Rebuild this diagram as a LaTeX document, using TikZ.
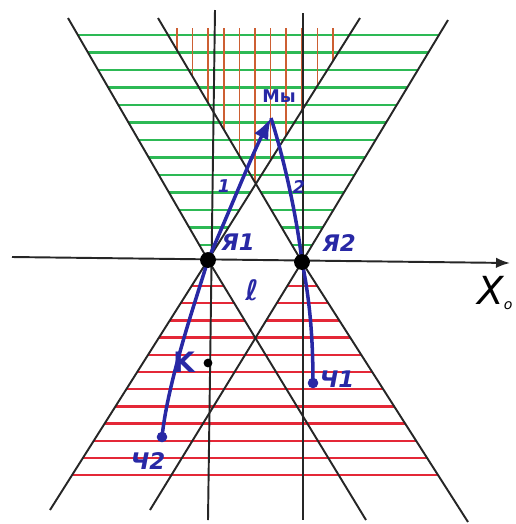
\documentclass[tikz,border=0pt]{standalone}
\usepackage{fontspec}
\setmainfont{DejaVu Sans}
\usetikzlibrary{arrows.meta,calc}
\definecolor{hgreen}{RGB}{45,185,85}
\definecolor{hred}{RGB}{228,40,55}
\definecolor{hbrown}{RGB}{205,95,50}
\definecolor{pen}{RGB}{40,40,165}

\begin{document}
\begin{tikzpicture}[
  x=0.2mm, y=-0.2mm,
  >=Latex,
  font=\itshape,
  edge/.style={draw=black!85, line width=1.1pt},
  ghatch/.style={draw=hgreen, line width=1.5pt},
  rhatch/.style={draw=hred, line width=1.4pt},
  vhatch/.style={draw=hbrown, line width=1pt},
  wline/.style={draw=pen, line width=2pt},
  event/.style={circle, fill=black, inner sep=0pt, minimum size=#1},
  lbl/.style={text=pen, font=\bfseries\itshape\fontsize{13}{13}\selectfont, inner sep=1pt}
]
\useasboundingbox (0,0) rectangle (516,524);

% events and line ends
\coordinate (p1) at (208,260);
\coordinate (p2) at (302,262);
\coordinate (l1a) at (68,18);   \coordinate (l1b) at (366,520);
\coordinate (l2a) at (360,18);  \coordinate (l2b) at (50,510);
\coordinate (l3a) at (158,18);  \coordinate (l3b) at (468,522);
\coordinate (l4a) at (448,20);  \coordinate (l4b) at (150,510);
\coordinate (we) at (271,118);
\coordinate (c1) at (313,383);
\coordinate (c2) at (162,437);

% future cones, green
\begin{scope}
  \clip (p1) -- (l1a) -- (l2a) -- cycle (p2) -- (l3a) -- (l4a) -- cycle;
  \foreach \k in {0,...,12}
    \draw[ghatch] (0,35+17.5*\k) -- (516,35+17.5*\k);
\end{scope}

% common future
\begin{scope}
  \clip (p1) -- (l1a) -- (l2a) -- cycle;
  \clip (p2) -- (l3a) -- (l4a) -- cycle;
  \foreach \k in {0,...,10}
    \draw[vhatch] (177+15.6*\k,28) -- (177+15.6*\k,300);
\end{scope}

% past cones, red
\begin{scope}
  \clip (p1) -- (l2b) -- (l1b) -- cycle (p2) -- (l4b) -- (l3b) -- cycle;
  \foreach \k in {0,...,11}
    \draw[rhatch] (0,286+17.2*\k) -- (516,286+17.2*\k);
\end{scope}

% cone edges
\draw[edge] (l1a) -- (p1) -- (l1b);
\draw[edge] (l2a) -- (p1) -- (l2b);
\draw[edge] (l3a) -- (p2) -- (l3b);
\draw[edge] (l4a) -- (p2) -- (l4b);

% time lines
\draw[edge] (215,10) -- (208,520);
\draw[edge] (303,13) -- (303,520);

% axis
\coordinate (xl) at (12,257);
\coordinate (xr) at (510,263);
\draw[edge, ->] (xl) -- (xr);
\node[font=\itshape\fontsize{22}{22}\selectfont, anchor=west, inner sep=0pt] (xlab) at (477,293) {X\textsubscript{\footnotesize o}};

% world lines
\draw[wline, ->] (p1) .. controls (232,205) and (252,155) .. (we);
\draw[wline] (we) .. controls (286,165) and (298,225) .. (p2);
\draw[wline] (p1) .. controls (196,300) and (168,380) .. (c2);
\draw[wline] (p2) .. controls (310,300) and (313,340) .. (c1);

% points
\node[event=9pt] (e1) at (p1) {};
\node[event=9pt] (e2) at (p2) {};
\node[event=5pt] (e3) at (208,363) {};
\node[event=6pt, fill=pen] (d1) at (c1) {};
\node[event=6pt, fill=pen] (d2) at (c2) {};

% labels
\node[lbl] (n1) at (238,242) {Я1};
\node[lbl] (n2) at (339,243) {Я2};
\node[lbl, font=\bfseries\itshape\fontsize{16}{16}\selectfont] (nl) at (252,290) {ℓ};
\node[lbl, font=\bfseries\fontsize{10}{10}\selectfont] (nw) at (279,96) {Мы};
\node[lbl, font=\bfseries\itshape\fontsize{10}{10}\selectfont] (t1) at (224,186) {1};
\node[lbl, font=\bfseries\itshape\fontsize{10}{10}\selectfont] (t2) at (299,187) {2};
\node[lbl, font=\bfseries\fontsize{16}{16}\selectfont] (nk) at (184,362) {K};
\node[lbl] (m1) at (337,379) {Ч1};
\node[lbl] (m2) at (148,461) {Ч2};

\end{tikzpicture}
\end{document}
